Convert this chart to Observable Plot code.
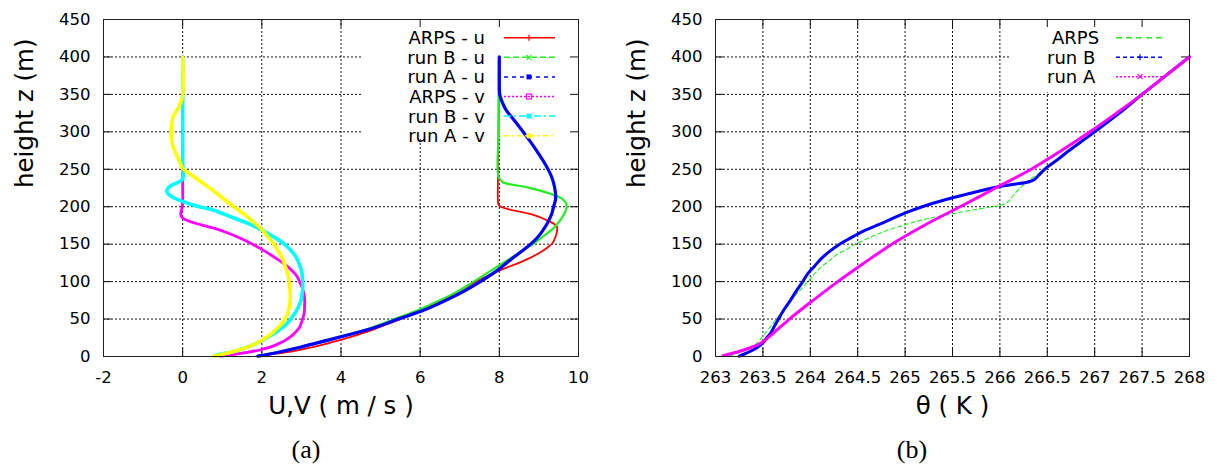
<!DOCTYPE html>
<html><head><meta charset="utf-8">
<script src="https://cdn.jsdelivr.net/npm/d3@7"></script>
<script src="https://cdn.jsdelivr.net/npm/@observablehq/plot@0.6"></script>
<style>
body{margin:0;background:#fff;}
#wrap{position:relative;width:1217px;height:466px;overflow:hidden;background:#fff;font-family:"DejaVu Sans",sans-serif;}
.panel{position:absolute;top:0;}
.cap{position:absolute;font-family:"Liberation Serif",serif;font-size:26px;transform:translate(-50%,-50%);line-height:1;}
</style></head><body><div id="wrap"></div>
<script>
// ---------- Panel (a): wind components ----------
const xTicksA = [-2, 0, 2, 4, 6, 8, 10];
const yTicks = [0, 50, 100, 150, 200, 250, 300, 350, 400, 450];
const namesA = ["ARPS - u", "run B - u", "run A - u", "ARPS - v", "run B - v", "run A - v"];
const colorsA = ["#ff0000", "#22ee22", "#0000ff", "#ff00ff", "#00ffff", "#ffff00"];

const zArpsU = [0.5, 3, 6, 10, 16, 24, 33, 42, 51, 62, 75, 88, 100, 110, 117, 124, 131, 138, 145, 152, 160, 168, 174, 182, 190, 197, 201, 205, 250, 300, 350, 400];
const uArpsU = [1.9, 2.25, 2.65, 3.05, 3.55, 4.1, 4.65, 5.1, 5.55, 6.05, 6.55, 7.0, 7.42, 7.8, 8.1, 8.45, 8.75, 9.0, 9.2, 9.35, 9.42, 9.46, 9.45, 9.2, 8.8, 8.2, 8.0, 7.97, 7.97, 7.98, 7.99, 8.0];

const zRunBU = [0.5, 5, 12, 25, 37, 50, 62, 75, 87, 100, 115, 130, 140, 150, 160, 172, 185, 195, 202, 210, 218, 226, 233, 240, 300, 345, 400];
const uRunBU = [1.9, 2.3, 2.9, 3.85, 4.7, 5.35, 5.95, 6.5, 6.95, 7.35, 7.8, 8.25, 8.55, 8.85, 9.1, 9.38, 9.58, 9.68, 9.7, 9.6, 9.25, 8.7, 8.08, 7.98, 7.98, 7.98, 7.99];

const zRunAU = [0.5, 5, 12, 25, 37, 50, 62, 75, 87, 100, 115, 130, 140, 150, 160, 175, 190, 200, 210, 225, 240, 250, 262, 275, 288, 300, 315, 330, 340, 350, 370, 400];
const uRunAU = [1.9, 2.36, 2.94, 3.9, 4.75, 5.45, 6.1, 6.65, 7.1, 7.52, 7.95, 8.3, 8.55, 8.79, 8.98, 9.18, 9.32, 9.37, 9.42, 9.4, 9.32, 9.23, 9.1, 8.94, 8.77, 8.6, 8.38, 8.16, 8.07, 8.01, 8.0, 8.0];

const zArpsV = [0.5, 3.6, 9, 15.5, 27, 38, 50, 58, 68, 78, 89, 98, 107, 120, 131, 144, 155, 164, 171, 176, 181, 185, 190, 195, 205, 220, 260, 300, 350, 400];
const vArpsV = [0.95, 1.39, 1.97, 2.36, 2.74, 2.94, 3.03, 3.07, 3.08, 3.08, 3.04, 2.97, 2.89, 2.65, 2.36, 1.97, 1.58, 1.19, 0.81, 0.45, 0.15, 0.0, -0.05, -0.03, 0.0, 0.0, 0.0, 0.0, 0.0, 0.0];

const zRunBV = [0.5, 2, 6.7, 15.5, 29, 42, 58, 75, 89, 102, 112, 120, 135, 151, 164, 177, 187, 195, 200, 207, 213, 218, 222, 228, 233, 237, 260, 300, 345, 400];
const vRunBV = [0.8, 0.86, 1.29, 1.78, 2.26, 2.6, 2.84, 2.99, 3.03, 3.03, 3.01, 2.97, 2.84, 2.55, 2.16, 1.68, 1.19, 0.81, 0.42, 0.0, -0.26, -0.38, -0.4, -0.3, -0.1, 0.0, 0.0, 0.0, 0.0, 0.0];

const zRunAV = [0.5, 6.7, 15.5, 27, 38, 51, 67, 80, 89, 100, 111, 122, 133, 143, 153, 162, 171, 180, 189, 204, 220, 235, 245, 251, 258, 264, 272, 280, 290, 298, 308, 320, 333, 342, 350, 400];
const vRunAV = [0.8, 1.29, 1.78, 2.16, 2.4, 2.6, 2.7, 2.72, 2.71, 2.69, 2.65, 2.58, 2.5, 2.39, 2.26, 2.12, 1.97, 1.78, 1.58, 1.19, 0.81, 0.42, 0.15, 0.0, -0.06, -0.11, -0.18, -0.24, -0.28, -0.29, -0.28, -0.24, -0.1, -0.03, 0.0, 0.0];

// ---------- Panel (b): potential temperature ----------
const xTicksB = [263, 263.5, 264, 264.5, 265, 265.5, 266, 266.5, 267, 267.5, 268];
const namesB = ["ARPS", "run B", "run A"];
const colorsB = ["#22ee22", "#0000ff", "#ff00ff"];

const zThArps = [0.5, 5, 11, 18, 27, 40, 53, 66, 80, 91, 102, 111, 120, 128, 136, 143, 151, 159, 167, 174, 180, 185, 189, 193, 196, 199, 202, 207, 215, 222, 229, 235.5, 250, 300, 350, 400];
const thArps = [263.15, 263.25, 263.37, 263.44, 263.5, 263.58, 263.66, 263.74, 263.83, 263.91, 263.99, 264.05, 264.12, 264.2, 264.28, 264.38, 264.49, 264.63, 264.78, 264.95, 265.11, 265.27, 265.44, 265.6, 265.73, 265.87, 266.01, 266.09, 266.14, 266.19, 266.25, 266.31, 266.47, 267.0, 267.5, 268.0];

const zThRunB = [0.5, 3, 7, 12, 18, 25, 31, 40, 49, 62, 75, 87, 98, 110, 120, 130, 140, 150, 160, 168, 176, 185, 193, 200, 207, 213, 218, 223, 227, 230, 233, 236, 242, 251, 263, 275, 288, 300, 325, 350, 375, 400];
const thRunB = [263.25, 263.3, 263.37, 263.44, 263.5, 263.54, 263.58, 263.62, 263.66, 263.72, 263.79, 263.85, 263.91, 263.97, 264.04, 264.11, 264.2, 264.31, 264.45, 264.57, 264.72, 264.88, 265.03, 265.18, 265.36, 265.53, 265.69, 265.85, 266.0, 266.15, 266.3, 266.36, 266.41, 266.48, 266.61, 266.73, 266.87, 267.0, 267.26, 267.5, 267.75, 268.0];

const zThRunA = [1, 5, 10, 18, 30, 50, 75, 100, 125, 150, 175, 200, 228, 250, 275, 300, 325, 350, 375, 400];
const thRunA = [263.08, 263.2, 263.33, 263.48, 263.6, 263.78, 264.03, 264.29, 264.57, 264.86, 265.2, 265.58, 266.0, 266.33, 266.65, 266.95, 267.23, 267.5, 267.75, 268.0];

// key (legend) boxes, in data units: grid is hidden under them
const keyBoxA = {x1: 4.53, x2: 10, y1: 292, y2: 450};
const keyBoxB = {x1: 266.11, x2: 268, y1: 352, y2: 450};

// ---------- build ----------
const rowsOf = (zs, xs) => zs.map((z, i) => ({z, x: xs[i]}));

const seriesA = [
  {data: rowsOf(zArpsU, uArpsU), w: 1.8},
  {data: rowsOf(zRunBU, uRunBU), w: 2.2},
  {data: rowsOf(zRunAU, uRunAU), w: 3.2},
  {data: rowsOf(zArpsV, vArpsV), w: 2.8},
  {data: rowsOf(zRunBV, vRunBV), w: 3.6},
  {data: rowsOf(zRunAV, vRunAV), w: 3.6}
].map((s, i) => ({...s, color: colorsA[i]}));

const seriesB = [
  {data: rowsOf(zThArps, thArps), w: 1.1, dash: "4,3"},
  {data: rowsOf(zThRunB, thRunB), w: 3.0},
  {data: rowsOf(zThRunA, thRunA), w: 3.0}
].map((s, i) => ({...s, color: colorsB[i]}));

const H = 430, MT = 19, MB = 74;
const wrap = document.getElementById("wrap");

function panel({left, width, marginLeft, marginRight, xDomain, xTicks, keyBox, series, xLabel, yLabel}) {
  const innerH = H - MT - MB;
  const innerW = width - marginLeft - marginRight;
  const gridX = xTicks.slice(1, -1), gridY = yTicks.slice(1, -1);
  const gridStyle = {stroke: "#111", strokeOpacity: 1, strokeWidth: 1, strokeDasharray: "2,2"};
  const tk = {stroke: "#111", strokeOpacity: 1, strokeWidth: 1};
  const svg = Plot.plot({
    width, height: H,
    marginLeft, marginRight, marginTop: MT, marginBottom: MB,
    style: {fontFamily: "DejaVu Sans", fontSize: "16.5px", background: "transparent", overflow: "visible", color: "#000"},
    x: {domain: xDomain},
    y: {domain: [0, 450]},
    marks: [
      Plot.ruleX(gridX, {x: d => d, ...gridStyle}),
      Plot.ruleY(gridY, {y: d => d, ...gridStyle}),
      Plot.rect([keyBox], {x1: "x1", x2: "x2", y1: "y1", y2: "y2", fill: "white"}),
      Plot.tickX(xTicks, {x: d => d, insetTop: innerH - 8, ...tk}),
      Plot.tickX(xTicks, {x: d => d, insetBottom: innerH - 8, ...tk}),
      Plot.tickY(yTicks, {y: d => d, insetRight: innerW - 8, ...tk}),
      Plot.tickY(yTicks, {y: d => d, insetLeft: innerW - 8, ...tk}),
      ...series.map(s => Plot.line(s.data, {x: "x", y: "z", stroke: s.color, strokeWidth: s.w, strokeDasharray: s.dash, curve: "catmull-rom", strokeLinejoin: "round"})),
      Plot.frame({stroke: "#222", strokeWidth: 1}),
      Plot.axisX(xTicks, {tickSize: 0, tickPadding: 15, tickFormat: d => String(d), label: null}),
      Plot.axisY(yTicks, {tickSize: 0, tickPadding: 13, tickFormat: d => String(d), label: null}),
      Plot.text([xLabel], {text: d => d, frameAnchor: "bottom", dy: 57, fontSize: 24.5}),
      Plot.text([yLabel], {text: d => d, frameAnchor: "left", rotate: -90, dx: -78, fontSize: 24.5})
    ]
  });
  svg.classList.add("panel");
  svg.style.left = left + "px";
  wrap.appendChild(svg);
}

panel({left: 0, width: 600, marginLeft: 103, marginRight: 22, xDomain: [-2, 10], xTicks: xTicksA, keyBox: keyBoxA, series: seriesA, xLabel: "U,V ( m / s )", yLabel: "height z (m)"});
panel({left: 600, width: 617, marginLeft: 115, marginRight: 28, xDomain: [263, 268], xTicks: xTicksB, keyBox: keyBoxB, series: seriesB, xLabel: "θ ( K )", yLabel: "height z (m)"});

// ---------- legends ----------
const ov = d3.select(wrap).append("svg")
  .attr("width", 1217).attr("height", 466)
  .style("position", "absolute").style("left", 0).style("top", 0)
  .style("font-family", "DejaVu Sans").style("font-size", "18px");

function marker(g, type, x, y, c) {
  if (type === "plus") {
    g.append("path").attr("d", `M${x-3},${y}H${x+3}M${x},${y-3}V${y+3}`).attr("stroke", c).attr("stroke-width", 1.2);
  } else if (type === "x") {
    g.append("path").attr("d", `M${x-2.5},${y-2.5}L${x+2.5},${y+2.5}M${x-2.5},${y+2.5}L${x+2.5},${y-2.5}`).attr("stroke", c).attr("stroke-width", 1.2);
  } else if (type === "sq") {
    g.append("rect").attr("x", x-2.5).attr("y", y-2.5).attr("width", 5).attr("height", 5).attr("fill", c);
  } else if (type === "osq") {
    g.append("rect").attr("x", x-2.5).attr("y", y-2.5).attr("width", 5).attr("height", 5).attr("fill", "none").attr("stroke", c).attr("stroke-width", 1.2);
  } else if (type === "circ") {
    g.append("circle").attr("cx", x).attr("cy", y).attr("r", 2.8).attr("fill", c);
  }
}

function legend(names, colors, styles, {textX, anchor, x1, x2, mx, y0, dy, textShift}) {
  names.forEach((name, i) => {
    const y = y0 + i * dy;
    const g = ov.append("g");
    g.append("text").attr("x", textX + (textShift ? textShift[i] : 0)).attr("y", y).attr("dy", "0.36em")
      .attr("text-anchor", anchor).text(name);
    g.append("line").attr("x1", x1).attr("x2", x2).attr("y1", y).attr("y2", y)
      .attr("stroke", colors[i]).attr("stroke-width", 1.5)
      .attr("stroke-dasharray", styles[i].dash || null);
    if (styles[i].m) marker(g, styles[i].m, mx, y, colors[i]);
  });
}

legend(namesA, colorsA, [
  {dash: null, m: "plus"}, {dash: "6,3", m: "x"}, {dash: "4,4", m: "sq"},
  {dash: "2,2", m: "osq"}, {dash: "7,3,2,3", m: "sq"}, {dash: "5,3,2,3", m: "circ"}
], {textX: 485, anchor: "end", x1: 504, x2: 555, mx: 529, y0: 37.7, dy: 19.6});

legend(namesB, colorsB, [
  {dash: "6,4"}, {dash: "4,3", m: "plus"}, {dash: "2,2", m: "x"}
], {textX: 1047, anchor: "start", x1: 1116, x2: 1163, mx: 1140, y0: 37.7, dy: 19.5, textShift: [5, 0, 0]});

// ---------- captions ----------
[["(a)", 306], ["(b)", 912]].forEach(([t, x]) => {
  const d = document.createElement("div");
  d.className = "cap"; d.textContent = t;
  d.style.left = x + "px"; d.style.top = "450px";
  wrap.appendChild(d);
});
</script>
</body></html>
